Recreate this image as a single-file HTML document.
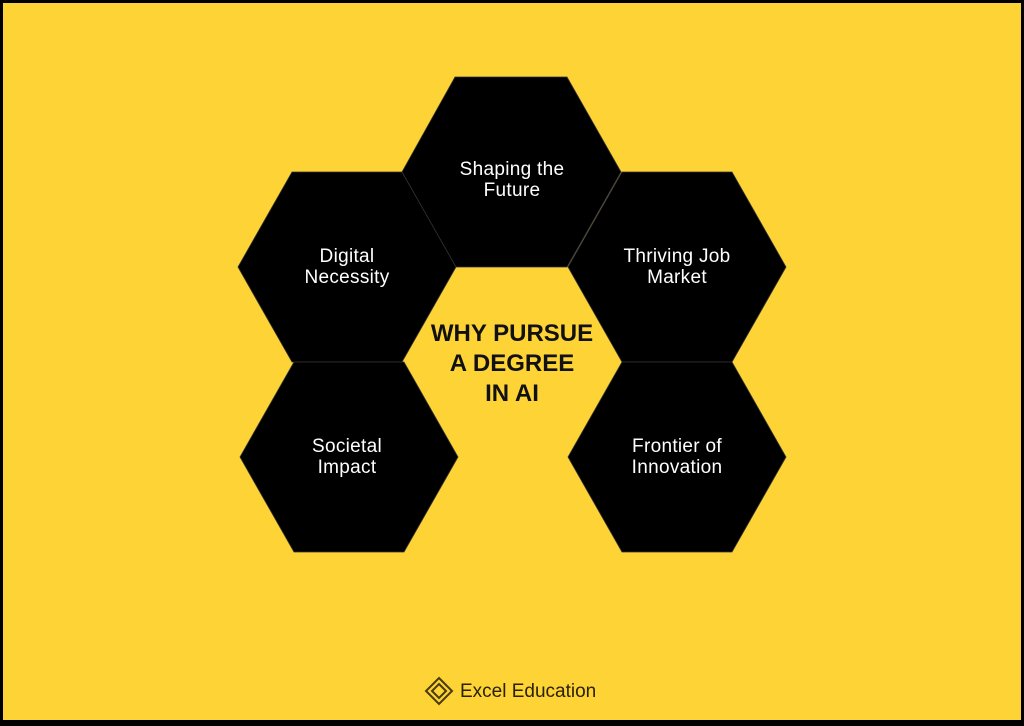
<!DOCTYPE html>
<html><head><style>
html,body{margin:0;padding:0;}
body{width:1024px;height:726px;overflow:hidden;background:#fdd335;}
svg{display:block;}
text{font-family:"Liberation Sans",sans-serif;}
</style></head><body>
<svg width="1024" height="726" viewBox="0 0 1024 726" xmlns="http://www.w3.org/2000/svg">
<rect x="0" y="0" width="1024" height="726" fill="#fdd335"/>
<rect x="1.5" y="1.5" width="1021" height="721" fill="none" stroke="#000" stroke-width="3"/>
<rect x="0" y="720" width="1024" height="6" fill="#000"/>
<g fill="#000" stroke="#333" stroke-width="0.8">
<polygon points="455,77 567,77 621,172 567,267 455,267 402,172"/>
<polygon points="292,172 402,172 456,267 402,362 292,362 238,267"/>
<polygon points="622,172 732,172 786,267 732,362 622,362 568,267"/>
<polygon points="294,362 404,362 458,457 404,552 294,552 240,457"/>
<polygon points="622,362 732,362 786,457 732,552 622,552 568,457"/>
</g>
<g fill="#fff" font-size="19" text-anchor="middle" letter-spacing="0.3">
<text x="512" y="175">Shaping the</text><text x="512" y="196">Future</text>
<text x="347" y="262">Digital</text><text x="347" y="283">Necessity</text>
<text x="677" y="262">Thriving Job</text><text x="677" y="283">Market</text>
<text x="347" y="452">Societal</text><text x="347" y="473">Impact</text>
<text x="677" y="452">Frontier of</text><text x="677" y="473">Innovation</text>
</g>
<g fill="#111" font-size="24" font-weight="bold" text-anchor="middle">
<text x="512" y="341">WHY PURSUE</text>
<text x="512" y="371">A DEGREE</text>
<text x="512" y="401">IN AI</text>
</g>
<g fill="none" stroke="#4a3a10" stroke-width="2">
<polygon points="439,678 452,691 439,704 426,691"/>
<polygon points="439,684 446,691 439,698 432,691"/>
</g>
<text x="460" y="697" font-size="19" fill="#2a2208">Excel Education</text>
</svg>
</body></html>
